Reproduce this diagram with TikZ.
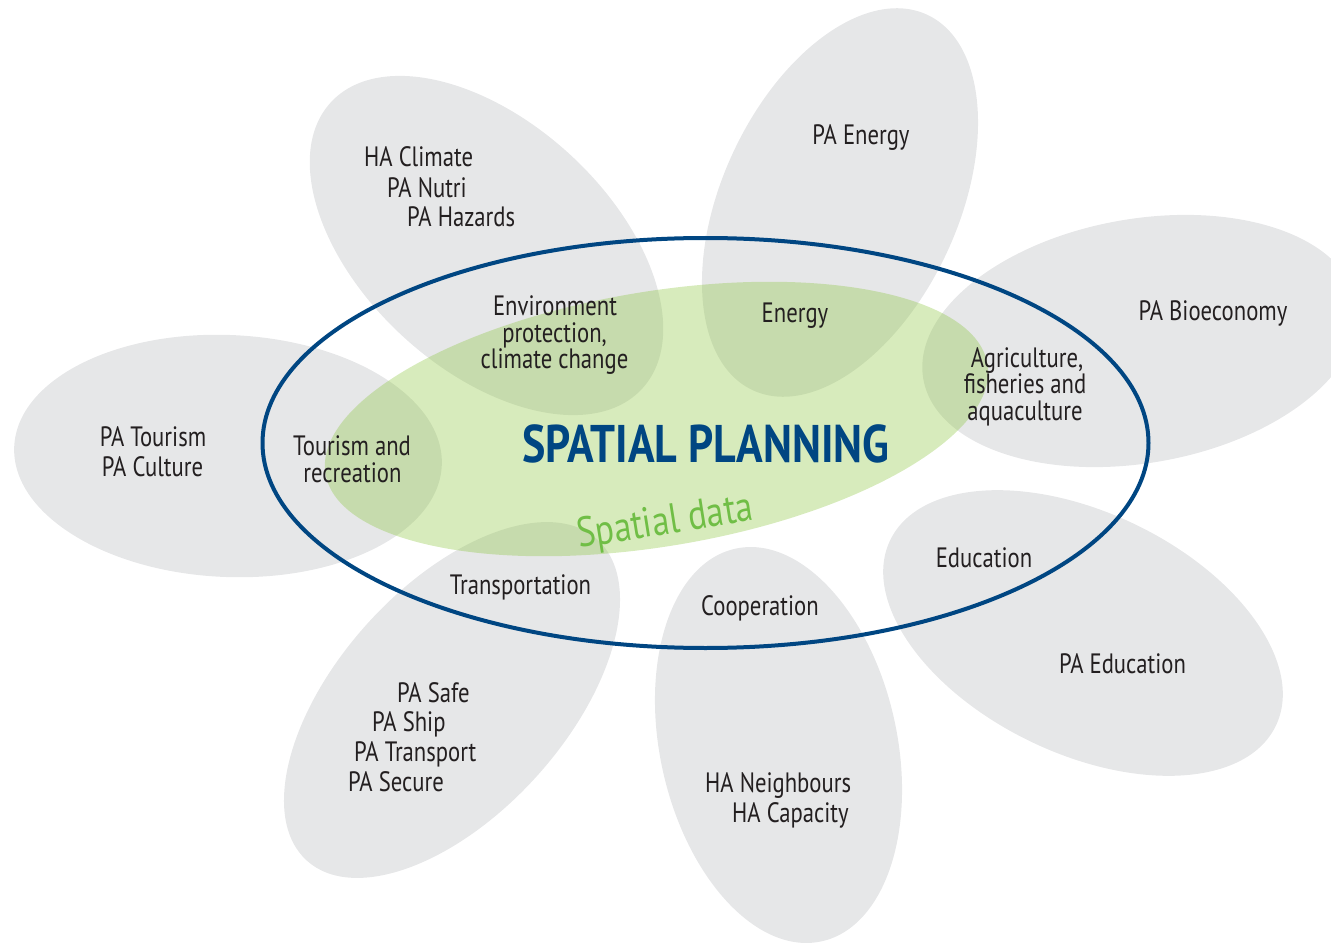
\documentclass[tikz,border=0pt]{standalone}
\usepackage{fontspec}
\setmainfont{PT Sans}[FakeStretch=0.81]
\newfontfamily\titlefont{PT Sans}[FakeStretch=0.83]
\newfontfamily\datafont{PT Sans}[FakeStretch=0.83]
\usetikzlibrary{shapes.geometric}
\definecolor{petalgray}{RGB}{230,231,232}
\definecolor{txtgray}{RGB}{35,31,32}
\definecolor{spblue}{RGB}{0,70,130}
\definecolor{spgreen}{RGB}{141,198,63}
\definecolor{datagreen}{RGB}{112,190,70}
\begin{document}
\begin{tikzpicture}[x=1pt,y=-1pt,
  petal/.style={ellipse, fill=petalgray, draw=none, inner sep=0pt, outer sep=0pt},
  lbl/.style={text=txtgray, font=\fontsize{28}{30}\selectfont, inner sep=0pt},
  lblw/.style={lbl, anchor=base west},
  lblc/.style={lbl, anchor=base}]
\path[use as bounding box, clip] (0,0) rectangle (1331,944);
% petals
\node[petal, minimum width=423, minimum height=247, rotate=-42.6] (pclimate) at (486.5,245.5) {};
\node[petal, minimum width=236, minimum height=414, rotate=-24.9] (penergy) at (840,202.5) {};
\node[petal, minimum width=440, minimum height=244, rotate=10] (pbio) at (1140,341) {};
\node[petal, minimum width=428, minimum height=241, rotate=-25.7] (pedu) at (1083,633) {};
\node[petal, minimum width=237, minimum height=402, rotate=12.4] (pcoop) at (778.5,745) {};
\node[petal, minimum width=433, minimum height=228, rotate=47.9] (ptrans) at (452,700) {};
\node[petal, minimum width=428, minimum height=242, rotate=-2.5] (ptour) at (228,456) {};
% spatial data ellipse
\node[ellipse, fill=spgreen, fill opacity=0.35, draw=none, inner sep=0pt,
      minimum width=671, minimum height=255, rotate=9.4] (data) at (656.5,419) {};
% spatial planning ellipse
\node[ellipse, draw=spblue, line width=4pt, inner sep=0pt,
      minimum width=886, minimum height=410] (plan) at (705.5,443) {};
% labels
\node[lblw] (t1) at (364,167) {HA Climate};
\node[lblw] (t2) at (387,198) {PA Nutri};
\node[lblw] (t3) at (407,227) {PA Hazards};
\node[lblc] (t4) at (555,315) {Environment};
\node[lblc] (t5) at (554.5,342) {protection,};
\node[lblc] (t6) at (554.5,368) {climate change};
\node[lblc] (t7) at (861,145) {PA Energy};
\node[lblc] (t8) at (795,322) {Energy};
\node[lblc] (t9) at (1213,320) {PA Bioeconomy};
\node[lblc] (t10) at (1027,367) {Agriculture,};
\node[lblc] (t11) at (1025,393) {fisheries and};
\node[lblc] (t12) at (1025,420) {aquaculture};
\node[lblc] (t13) at (153,446) {PA Tourism};
\node[lblc] (t14) at (152.5,476) {PA Culture};
\node[lblc] (t15) at (352,455) {Tourism and};
\node[lblc] (t16) at (352.5,482) {recreation};
\node[lblc] (t17) at (520.5,594) {Transportation};
\node[lblc] (t18) at (760,615) {Cooperation};
\node[lblc] (t19) at (984,567) {Education};
\node[lblc] (t20) at (1122.5,673) {PA Education};
\node[lblw] (t21) at (397,702) {PA Safe};
\node[lblw] (t22) at (372,731) {PA Ship};
\node[lblw] (t23) at (354,761) {PA Transport};
\node[lblw] (t24) at (348,791) {PA Secure};
\node[lblw] (t25) at (705,792) {HA Neighbours};
\node[lblw] (t26) at (732,822) {HA Capacity};
\node[anchor=base, inner sep=0pt, text=spblue, font=\titlefont\bfseries\fontsize{53}{53}\selectfont] (title) at (706,462) {SPATIAL PLANNING};
\node[anchor=base, inner sep=0pt, text=datagreen, rotate=9, font=\datafont\fontsize{42}{42}\selectfont] (sdata) at (667,534) {Spatial data};
\end{tikzpicture}
\end{document}
